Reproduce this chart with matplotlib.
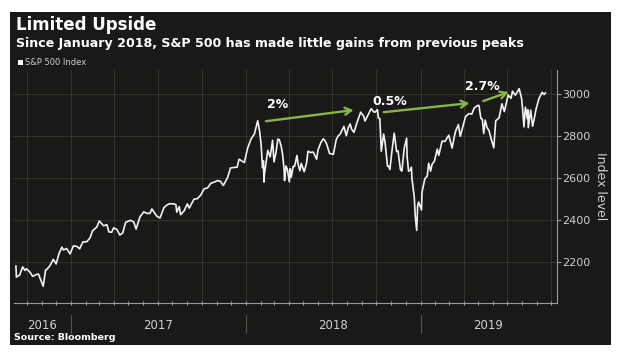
import matplotlib
matplotlib.use("Agg")
import matplotlib.pyplot as plt
import matplotlib.dates as mdates
import matplotlib.transforms as mtransforms
from matplotlib.patches import Rectangle
from matplotlib.lines import Line2D
import pandas as pd

# ---------------- data (S&P 500 Index) ----------------
dates_2016 = ["2016-09-08", "2016-09-09", "2016-09-16", "2016-09-22", "2016-09-27", "2016-09-30",
              "2016-10-07", "2016-10-13", "2016-10-21", "2016-10-25", "2016-10-28", "2016-11-04",
              "2016-11-09", "2016-11-11", "2016-11-18", "2016-11-25", "2016-12-01", "2016-12-07",
              "2016-12-13", "2016-12-16", "2016-12-23", "2016-12-30"]
close_2016 = [2181, 2128, 2139, 2177, 2160, 2168,
              2153, 2132, 2141, 2143, 2126, 2085,
              2163, 2164, 2182, 2213, 2191, 2241,
              2271, 2258, 2264, 2239]

dates_2017 = ["2017-01-06", "2017-01-13", "2017-01-19", "2017-01-26", "2017-02-03", "2017-02-10",
              "2017-02-15", "2017-02-24", "2017-03-01", "2017-03-10", "2017-03-17", "2017-03-21",
              "2017-03-27", "2017-03-31", "2017-04-07", "2017-04-13", "2017-04-19", "2017-04-25",
              "2017-05-05", "2017-05-12", "2017-05-17", "2017-05-25", "2017-06-02", "2017-06-09",
              "2017-06-15", "2017-06-19", "2017-06-29", "2017-07-06", "2017-07-14", "2017-07-21",
              "2017-07-26", "2017-08-04", "2017-08-08", "2017-08-10", "2017-08-15", "2017-08-18",
              "2017-08-25", "2017-09-01", "2017-09-05", "2017-09-15", "2017-09-22", "2017-09-29",
              "2017-10-06", "2017-10-13", "2017-10-20", "2017-10-27", "2017-11-03", "2017-11-09",
              "2017-11-15", "2017-11-24", "2017-11-30", "2017-12-08", "2017-12-14", "2017-12-18",
              "2017-12-29"]
close_2017 = [2277, 2275, 2263, 2296, 2297, 2316,
              2349, 2367, 2396, 2373, 2378, 2344,
              2342, 2363, 2355, 2329, 2338, 2389,
              2399, 2391, 2357, 2415, 2439, 2432,
              2432, 2453, 2419, 2410, 2459, 2473,
              2478, 2477, 2474, 2438, 2464, 2426,
              2443, 2477, 2457, 2500, 2502, 2519,
              2549, 2553, 2575, 2581, 2588, 2585,
              2565, 2602, 2648, 2651, 2652, 2690,
              2674]

dates_2018 = ["2018-01-05", "2018-01-12", "2018-01-19", "2018-01-26", "2018-01-30", "2018-02-02",
              "2018-02-05", "2018-02-07", "2018-02-08", "2018-02-09", "2018-02-14", "2018-02-16",
              "2018-02-21", "2018-02-26", "2018-03-01", "2018-03-05", "2018-03-09", "2018-03-12",
              "2018-03-16", "2018-03-19", "2018-03-22", "2018-03-23", "2018-03-26", "2018-03-29",
              "2018-04-02", "2018-04-04", "2018-04-06", "2018-04-10", "2018-04-13", "2018-04-18",
              "2018-04-20", "2018-04-24", "2018-04-27", "2018-05-03", "2018-05-08", "2018-05-11",
              "2018-05-16", "2018-05-22", "2018-05-29", "2018-06-01", "2018-06-07", "2018-06-12",
              "2018-06-15", "2018-06-19", "2018-06-25", "2018-06-28", "2018-07-03", "2018-07-09",
              "2018-07-13", "2018-07-17", "2018-07-25", "2018-07-30", "2018-08-03", "2018-08-07",
              "2018-08-10", "2018-08-15", "2018-08-21", "2018-08-29", "2018-09-04", "2018-09-07",
              "2018-09-14", "2018-09-20", "2018-09-25", "2018-09-28", "2018-10-03", "2018-10-05",
              "2018-10-08", "2018-10-10", "2018-10-11", "2018-10-16", "2018-10-19", "2018-10-24",
              "2018-10-26", "2018-10-29", "2018-11-02", "2018-11-07", "2018-11-09", "2018-11-12",
              "2018-11-15", "2018-11-20", "2018-11-23", "2018-11-28", "2018-12-03", "2018-12-04",
              "2018-12-07", "2018-12-10", "2018-12-13", "2018-12-14", "2018-12-17", "2018-12-19",
              "2018-12-21", "2018-12-24", "2018-12-26", "2018-12-28"]
close_2018 = [2743, 2786, 2810, 2873, 2822, 2762,
              2649, 2682, 2581, 2620, 2698, 2732,
              2701, 2780, 2677, 2721, 2786, 2783,
              2752, 2712, 2643, 2588, 2658, 2641,
              2582, 2645, 2604, 2656, 2656, 2708,
              2670, 2635, 2670, 2630, 2672, 2728,
              2722, 2724, 2690, 2735, 2770, 2787,
              2780, 2762, 2717, 2716, 2713, 2784,
              2801, 2809, 2846, 2802, 2840, 2858,
              2833, 2818, 2863, 2914, 2896, 2872,
              2904, 2931, 2916, 2914, 2926, 2886,
              2884, 2786, 2728, 2810, 2768, 2656,
              2658, 2641, 2723, 2814, 2781, 2726,
              2730, 2641, 2633, 2744, 2790, 2700,
              2633, 2637, 2651, 2600, 2546, 2507,
              2417, 2351, 2468, 2486]

dates_2019 = ["2019-01-03", "2019-01-04", "2019-01-10", "2019-01-15", "2019-01-18", "2019-01-22",
              "2019-01-25", "2019-01-30", "2019-02-05", "2019-02-08", "2019-02-15", "2019-02-21",
              "2019-02-26", "2019-03-01", "2019-03-08", "2019-03-12", "2019-03-15", "2019-03-21",
              "2019-03-25", "2019-03-29", "2019-04-05", "2019-04-12", "2019-04-18", "2019-04-23",
              "2019-04-30", "2019-05-03", "2019-05-07", "2019-05-10", "2019-05-13", "2019-05-16",
              "2019-05-20", "2019-05-24", "2019-05-29", "2019-06-03", "2019-06-07", "2019-06-14",
              "2019-06-20", "2019-06-25", "2019-07-03", "2019-07-09", "2019-07-12", "2019-07-18",
              "2019-07-26", "2019-07-31", "2019-08-02", "2019-08-05", "2019-08-08", "2019-08-12",
              "2019-08-13", "2019-08-14", "2019-08-19", "2019-08-23", "2019-08-26", "2019-08-30",
              "2019-09-05", "2019-09-12", "2019-09-16", "2019-09-19"]
close_2019 = [2448, 2532, 2597, 2610, 2671, 2633,
              2665, 2681, 2738, 2708, 2776, 2775,
              2793, 2804, 2743, 2792, 2822, 2855,
              2799, 2834, 2893, 2907, 2905, 2934,
              2946, 2946, 2884, 2881, 2812, 2876,
              2840, 2826, 2783, 2744, 2873, 2887,
              2954, 2917, 2996, 2980, 3014, 2995,
              3026, 2980, 2932, 2844, 2938, 2883,
              2926, 2840, 2924, 2847, 2878, 2926,
              2977, 3009, 2998, 3006]

# annotations: (label, label date, label level, arrow start date/level, arrow end date/level)
gain_labels = ["2%", "0.5%", "2.7%"]
label_dates = ["2018-03-09", "2018-10-29", "2019-05-10"]
label_levels = [2950, 2965, 3035]
arrow_start_dates = ["2018-02-12", "2018-10-16", "2019-05-12"]
arrow_start_levels = [2871, 2914, 2967]
arrow_end_dates = ["2018-08-14", "2019-04-13", "2019-07-04"]
arrow_end_levels = [2924, 2957, 3010]

y_ticks = [2200, 2400, 2600, 2800, 3000]
year_labels = ["2016", "2017", "2018", "2019"]

# ---------------- build ----------------
dates = pd.to_datetime(dates_2016 + dates_2017 + dates_2018 + dates_2019)
close = close_2016 + close_2017 + close_2018 + close_2019

W, H = 620, 355
fig = plt.figure(figsize=(W / 100, H / 100), dpi=100)
fig.patch.set_facecolor("white")

BG = "#1b1917"
GRID = "#363431"
TXT = "#d0d0d0"

# dark panel
panel = Rectangle((10 / W, 1 - 345 / H), 601 / W, 333 / H,
                  transform=fig.transFigure, facecolor=BG, edgecolor="none", zorder=-10)
fig.add_artist(panel)

ax = fig.add_axes([14 / W, 1 - 303 / H, (557 - 14) / W, (303 - 70) / H])
ax.set_zorder(1)
ax.set_facecolor(BG)
ax.plot(dates, close, color="#f2f2f2", lw=1.2, zorder=3)

ax.set_xlim(pd.Timestamp("2016-09-04"), pd.Timestamp("2019-10-13"))
ax.set_ylim(2005, 3115)

# axes styling
for s in ["top", "left"]:
    ax.spines[s].set_visible(False)
ax.spines["bottom"].set_color("#9a9a9a")
ax.spines["right"].set_color("#9a9a9a")
ax.spines["bottom"].set_linewidth(0.8)
ax.spines["right"].set_linewidth(0.8)

ax.yaxis.tick_right()
ax.set_yticks(y_ticks)
ax.set_yticklabels([str(v) for v in y_ticks])
ax.tick_params(axis="y", colors="#9a9a9a", labelsize=8, length=3, width=0.8, pad=1, labelcolor=TXT)
ax.yaxis.set_label_position("right")
ax.set_ylabel("Index level", color=TXT, fontsize=9, rotation=270, labelpad=12)

ax.xaxis.set_major_locator(mdates.MonthLocator(bymonth=[1, 4, 7, 10]))
ax.xaxis.set_minor_locator(mdates.MonthLocator())
ax.tick_params(axis="x", which="both", direction="inout", length=3, width=0.8,
               color="#9a9a9a", labelbottom=False)

ax.grid(True, which="major", color=GRID, lw=0.7)
ax.set_axisbelow(True)

# year labels & separators
trans = mtransforms.blended_transform_factory(ax.transData, ax.transAxes)
year_centers = ["2016-11-02", "2017-07-02", "2018-07-02", "2019-05-23"]
for lab, c in zip(year_labels, year_centers):
    ax.text(pd.Timestamp(c), -0.095, lab, transform=trans, ha="center", va="center",
            color=TXT, fontsize=8.5, clip_on=False)
for b in ["2017-01-01", "2018-01-01", "2019-01-01"]:
    xb = mdates.date2num(pd.Timestamp(b))
    ax.add_line(Line2D([xb, xb], [-0.05, -0.13], transform=trans, color="#555350",
                       lw=0.8, clip_on=False))

# arrows & labels
GREEN = "#86b548"
for lab, ld, ll, sd, sl, ed, el in zip(gain_labels, label_dates, label_levels,
                                        arrow_start_dates, arrow_start_levels,
                                        arrow_end_dates, arrow_end_levels):
    ax.annotate("", xy=(pd.Timestamp(ed), el), xytext=(pd.Timestamp(sd), sl),
                arrowprops=dict(arrowstyle="->,head_length=0.45,head_width=0.25",
                                color=GREEN, lw=1.7, shrinkA=0, shrinkB=0), zorder=4)
    ax.text(pd.Timestamp(ld), ll, lab, color="white", fontsize=9, fontweight="bold",
            ha="center", va="center", zorder=5)

# titles
fig.text(16 / W, 1 - 30 / H, "Limited Upside", color="white", fontsize=12,
         fontweight="bold", ha="left", va="baseline")
fig.text(16 / W, 1 - 47 / H, "Since January 2018, S&P 500 has made little gains from previous peaks",
         color="white", fontsize=9.1, fontweight="bold", ha="left", va="baseline")
fig.add_artist(Rectangle((18 / W, 1 - 65 / H), 5 / W, 5 / H, transform=fig.transFigure,
                         facecolor="white", edgecolor="none", zorder=2))
fig.text(25 / W, 1 - 62.5 / H, "S&P 500 Index", color=TXT, fontsize=6, ha="left", va="center")
fig.text(14 / W, 1 - 338 / H, "Source: Bloomberg", color="white", fontsize=6.8,
         fontweight="bold", ha="left", va="center")

fig.savefig("out.png", dpi=100, facecolor=fig.get_facecolor())
